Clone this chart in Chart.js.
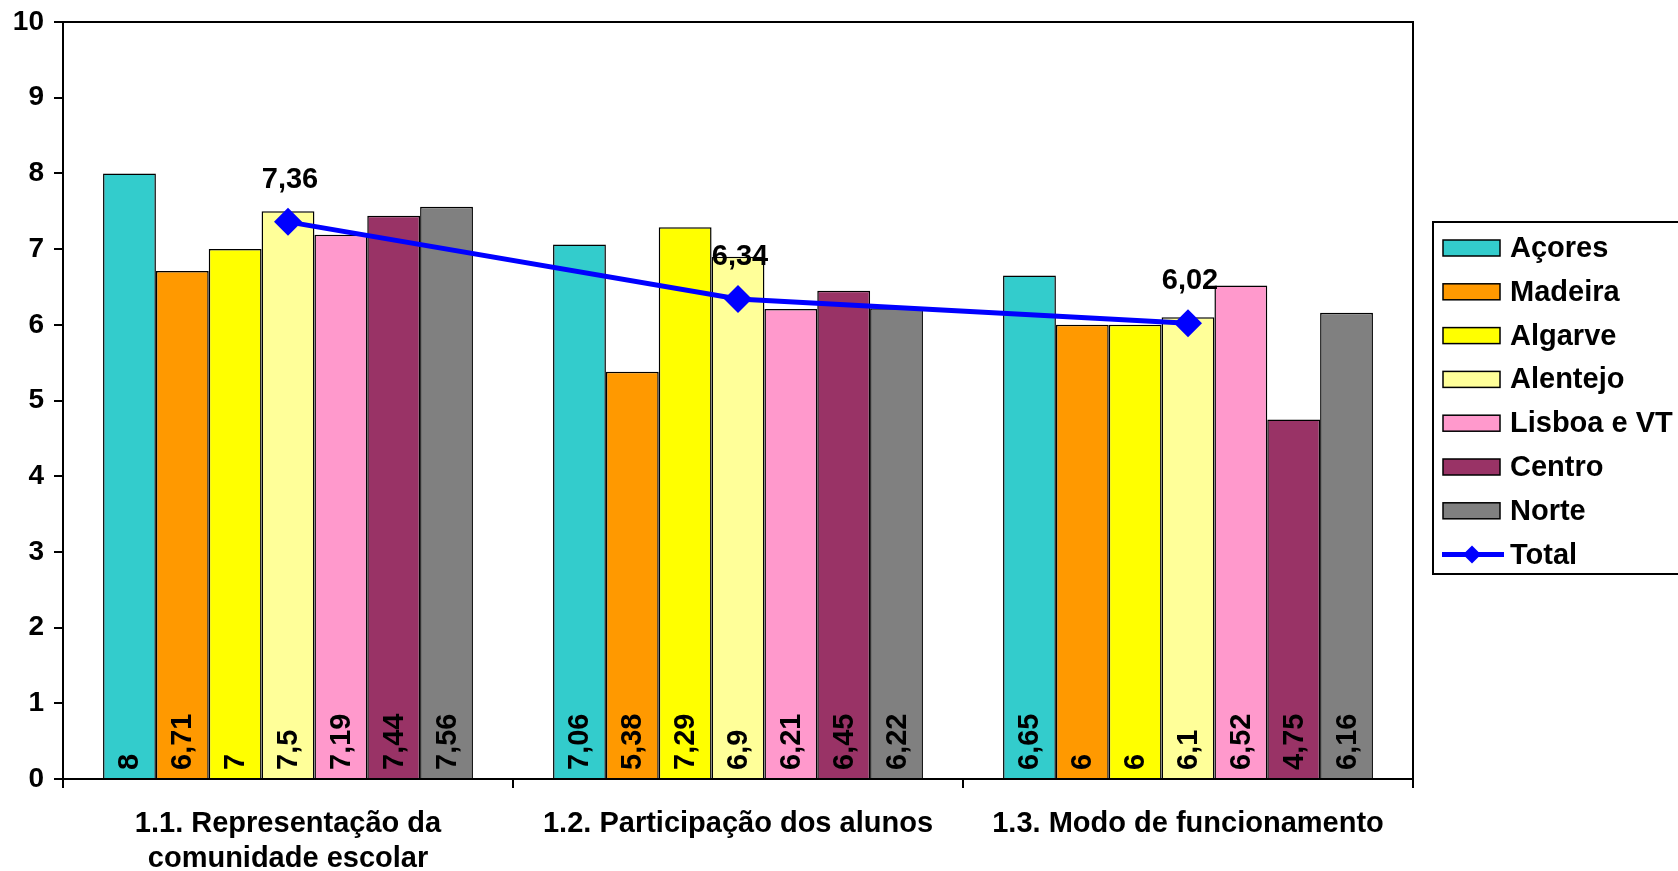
<!DOCTYPE html>
<html>
<head>
<meta charset="utf-8">
<script src="https://cdn.jsdelivr.net/npm/chart.js@4/dist/chart.umd.min.js"></script>
<style>
html, body { margin: 0; padding: 0; background: #fff; }
canvas { display: block; }
</style>
</head>
<body>
<canvas id="chart" width="1678" height="871"></canvas>
<script>
// categories and series
var categories = [['1.1. Representação da', 'comunidade escolar'], '1.2. Participação dos alunos', '1.3. Modo de funcionamento'];
var regions = ['Açores', 'Madeira', 'Algarve', 'Alentejo', 'Lisboa e VT', 'Centro', 'Norte'];
var acores = [8, 7.06, 6.65];
var madeira = [6.71, 5.38, 6];
var algarve = [7, 7.29, 6];
var alentejo = [7.5, 6.9, 6.1];
var lisboa = [7.19, 6.21, 6.52];
var centro = [7.44, 6.45, 4.75];
var norte = [7.56, 6.22, 6.16];
var total = [7.36, 6.34, 6.02];
var yTicks = [0, 1, 2, 3, 4, 5, 6, 7, 8, 9, 10];

var regionValues = [acores, madeira, algarve, alentejo, lisboa, centro, norte];
var regionColors = ['#33cccc', '#ff9900', '#ffff00', '#ffff99', '#ff99cc', '#993366', '#808080'];

var FONT = '"Liberation Sans", Arial, sans-serif';

function fmt(v) {
    return String(v).replace('.', ',');
}

var datasets = regions.map(function (name, i) {
    return {
        type: 'bar',
        label: name,
        data: regionValues[i],
        backgroundColor: regionColors[i],
        borderColor: '#000',
        borderWidth: 1.5,
        categoryPercentage: 0.822,
        barPercentage: 1,
        order: 1
    };
});
datasets.push({
    type: 'line',
    label: 'Total',
    data: total,
    borderColor: '#0000ff',
    backgroundColor: '#0000ff',
    borderWidth: 5,
    tension: 0,
    pointStyle: 'rectRot',
    pointRadius: 14,
    pointBorderWidth: 0,
    order: 0
});

// value labels, plot frame and the boxed legend
var extras = {
    id: 'extras',
    afterDatasetsDraw: function (chart) {
        var ctx = chart.ctx;
        var area = chart.chartArea;
        ctx.save();
        ctx.fillStyle = '#000';
        ctx.font = 'bold 29px ' + FONT;
        chart.data.datasets.forEach(function (ds, di) {
            var meta = chart.getDatasetMeta(di);
            meta.data.forEach(function (el, i) {
                if (ds.type === 'bar') {
                    ctx.save();
                    ctx.translate(el.x, el.base - 8);
                    ctx.rotate(-Math.PI / 2);
                    ctx.textAlign = 'left';
                    ctx.textBaseline = 'middle';
                    ctx.fillText(fmt(ds.data[i]), 0, 1);
                    ctx.restore();
                } else {
                    ctx.textAlign = 'center';
                    ctx.textBaseline = 'middle';
                    ctx.fillText(fmt(ds.data[i]), el.x + 2, el.y - 42);
                }
            });
        });
        // top and right frame of the plot area
        ctx.strokeStyle = '#000';
        ctx.lineWidth = 2;
        ctx.beginPath();
        ctx.moveTo(area.left, area.top);
        ctx.lineTo(area.right, area.top);
        ctx.lineTo(area.right, area.bottom);
        ctx.stroke();
        ctx.restore();
    },
    afterDraw: function (chart) {
        var ctx = chart.ctx;
        ctx.save();
        var bx = 1433, by = 222, bw = 260, bh = 352;
        ctx.fillStyle = '#fff';
        ctx.fillRect(bx, by, bw, bh);
        ctx.strokeStyle = '#000';
        ctx.lineWidth = 2;
        ctx.strokeRect(bx, by, bw, bh);
        ctx.font = 'bold 29px ' + FONT;
        ctx.textAlign = 'left';
        ctx.textBaseline = 'middle';
        chart.data.datasets.forEach(function (ds, i) {
            var cy = 248 + i * 43.8;
            if (ds.type === 'bar') {
                ctx.fillStyle = ds.backgroundColor;
                ctx.fillRect(1443, cy - 8, 57, 16);
                ctx.lineWidth = 1.5;
                ctx.strokeStyle = '#000';
                ctx.strokeRect(1443, cy - 8, 57, 16);
            } else {
                ctx.strokeStyle = ds.borderColor;
                ctx.lineWidth = 5;
                ctx.beginPath();
                ctx.moveTo(1442, cy);
                ctx.lineTo(1504, cy);
                ctx.stroke();
                ctx.fillStyle = ds.borderColor;
                ctx.beginPath();
                ctx.moveTo(1472, cy - 9);
                ctx.lineTo(1481, cy);
                ctx.lineTo(1472, cy + 9);
                ctx.lineTo(1463, cy);
                ctx.closePath();
                ctx.fill();
            }
            ctx.fillStyle = '#000';
            ctx.fillText(ds.label, 1510, cy + 1);
        });
        ctx.restore();
    }
};

new Chart(document.getElementById('chart'), {
    data: {
        labels: categories,
        datasets: datasets
    },
    options: {
        responsive: false,
        devicePixelRatio: 1,
        animation: false,
        layout: { padding: { left: 0, right: 265, top: 22, bottom: 0 } },
        plugins: {
            legend: { display: false },
            tooltip: { enabled: false }
        },
        scales: {
            x: {
                offset: true,
                grid: { offset: true, drawOnChartArea: false, drawTicks: true, tickLength: 9, color: '#000', lineWidth: 2 },
                border: { display: true, color: '#000', width: 2 },
                ticks: {
                    color: '#000',
                    font: { family: FONT, size: 29, weight: 'bold', lineHeight: 1.22 },
                    padding: 18,
                    maxRotation: 0,
                    autoSkip: false
                },
                afterFit: function (s) { s.height = 92; }
            },
            y: {
                min: 0,
                max: 10,
                afterBuildTicks: function (s) { s.ticks = yTicks.map(function (v) { return { value: v }; }); },
                grid: { drawOnChartArea: false, drawTicks: true, tickLength: 9, color: '#000', lineWidth: 2 },
                border: { display: true, color: '#000', width: 2 },
                ticks: {
                    color: '#000',
                    font: { family: FONT, size: 28, weight: 'bold' },
                    padding: 10
                },
                afterFit: function (s) {
                    s.width = 63;
                    s.paddingTop = 0;
                    s.paddingBottom = 0;
                }
            }
        }
    },
    plugins: [extras]
});
</script>
</body>
</html>
